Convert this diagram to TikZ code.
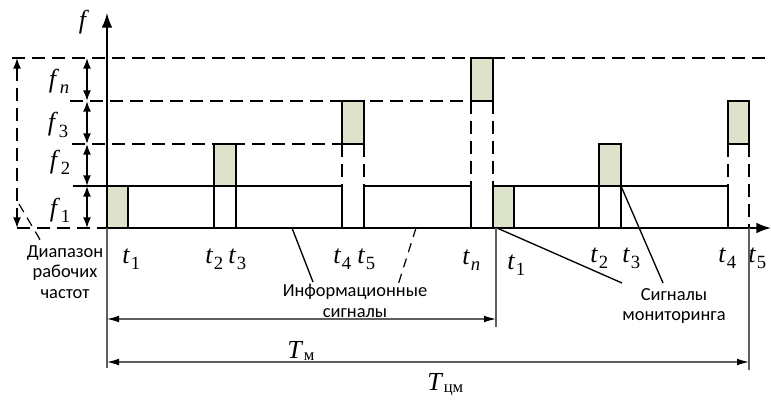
\documentclass[tikz,border=0pt]{standalone}
\usepackage{fontspec}
\setmainfont{Liberation Serif}
\newfontfamily\sansf{Carlito}
\usetikzlibrary{arrows.meta}
\definecolor{sig}{RGB}{221,226,203}
\definecolor{dimc}{RGB}{95,95,95}
\newcommand\lab[2]{\textit{#1}\kern0.03em\raisebox{-0.24em}{\fontsize{14}{14}\selectfont #2}}
\newcommand\labT[2]{\textit{#1}\kern0.02em\raisebox{-0.1em}{\fontsize{12.5}{12.5}\selectfont #2}}
\begin{document}
\begin{tikzpicture}[x=0.75pt,y=-0.75pt,
  ln/.style={line width=1.2pt},
  dsh/.style={line width=1.2pt, dash pattern=on 10pt off 5pt},
  dshthin/.style={line width=0.9pt, dash pattern=on 7pt off 5pt},
  sigbox/.style={draw, line width=1.2pt, fill=sig},
  infobox/.style={draw, line width=1.2pt, fill=white},
  axtip/.style={-{Latex[length=11pt,width=8pt]}},
  dbl/.style={{Latex[length=8pt,width=6pt]}-{Latex[length=8pt,width=6pt]}, line width=1.2pt},
  dimarr/.style={draw=dimc, line width=0.8pt, {Latex[length=9pt,width=5pt,color=black]}-{Latex[length=9pt,width=5pt,color=black]}},
  ext/.style={draw=dimc, line width=0.8pt},
  lead/.style={line width=1pt},
  lbl/.style={font=\fontsize{19.5}{19.5}\selectfont, inner sep=0pt},
  txt/.style={font=\sansf\fontsize{13.8}{15.4}\selectfont, align=center, inner sep=0pt},
]
\useasboundingbox (0,0) rectangle (771,401);
% dashed level lines
\draw[dsh] (12,58) -- (771,58);
\draw[dsh] (70,101) -- (471,101);
\draw[dsh] (72,144) -- (342,144);
\draw[ln] (73,186) -- (107,186);
\draw[dsh] (17,228) -- (107,228);
% dashed verticals
\draw[dsh] (342,144) -- (342,186);
\draw[dsh] (364,144) -- (364,186);
\draw[dsh] (471,101) -- (471,186);
\draw[dsh] (493,101) -- (493,186);
\draw[dsh] (728,144) -- (728,186);
\draw[dsh] (749,144) -- (749,228);
% information boxes
\draw[infobox] (107,186) rectangle (214,228);
\draw[infobox] (214,186) rectangle (236,228);
\draw[infobox] (236,186) rectangle (342,228);
\draw[infobox] (364,186) rectangle (471,228);
\draw[infobox] (493,186) rectangle (599,228);
\draw[infobox] (599,186) rectangle (621,228);
\draw[infobox] (621,186) rectangle (728,228);
% monitoring signals
\draw[sigbox] (107,186) rectangle (128,228);
\draw[sigbox] (214,144) rectangle (236,186);
\draw[sigbox] (342,101) rectangle (364,144);
\draw[sigbox] (471,58) rectangle (493,101);
\draw[sigbox] (493,186) rectangle (514,228);
\draw[sigbox] (599,144) rectangle (621,186);
\draw[sigbox] (728,101) rectangle (749,144);
% axes
\coordinate (O) at (107,228);
\coordinate (ytop) at (107,13);
\coordinate (xend) at (771,228);
\draw[ln, axtip] (O) -- (ytop);
\draw[ln, axtip] (O) -- (xend);
\node[lbl] (flab) at (84,22) {\textit{f}};
% frequency brackets
\draw[dsh, dbl] (17,58) -- (17,228);
\draw[dbl] (87,58) -- (87,101);
\draw[dbl] (87,101) -- (87,144);
\draw[dbl] (87,144) -- (87,186);
\draw[dbl] (87,186) -- (87,228);
\node[lbl] (fn) at (59,81) {\lab{f}{\textit{n}}};
\node[lbl] (f3) at (58,125) {\lab{f}{3}};
\node[lbl] (f2) at (60,162) {\lab{f}{2}};
\node[lbl] (f1) at (60,210) {\lab{f}{1}};
% range label
\node[txt] (range) at (65,272) {Диапазон\\рабочих\\частот};
\coordinate (rl1) at (19,204);
\coordinate (rl2) at (42,243);
\draw[dshthin] (rl1) -- (rl2);
% time labels
\node[lbl, anchor=base west] (t1) at (122,263) {\lab{t}{1}};
\node[lbl, anchor=base west] (t2) at (205,263) {\lab{t}{2}};
\node[lbl, anchor=base west] (t3) at (228,263) {\lab{t}{3}};
\node[lbl, anchor=base west] (t4) at (333,263) {\lab{t}{4}};
\node[lbl, anchor=base west] (t5) at (357,263) {\lab{t}{5}};
\node[lbl, anchor=base west] (tn) at (462,264) {\lab{t}{\textit{n}}};
\node[lbl, anchor=base west] (t1b) at (507,269) {\lab{t}{1}};
\node[lbl, anchor=base west] (t2b) at (590,262) {\lab{t}{2}};
\node[lbl, anchor=base west] (t3b) at (622,262) {\lab{t}{3}};
\node[lbl, anchor=base west] (t4b) at (718,262) {\lab{t}{4}};
\node[lbl, anchor=base west] (t5b) at (748,262) {\lab{t}{5}};
% info leaders
\node[txt] (info) at (355,301) {Информационные\\сигналы};
\coordinate (il1) at (292,228);
\coordinate (il1e) at (313,282);
\coordinate (il2) at (416,228);
\coordinate (il2e) at (398,285);
\draw[lead] (il1) -- (il1e);
\draw[dshthin] (il2) -- (il2e);
% monitoring leaders
\node[txt] (mon) at (674,306) {Сигналы\\мониторинга};
\coordinate (ml1) at (497,228);
\coordinate (ml1e) at (622,283);
\coordinate (ml2) at (621,186);
\coordinate (ml2e) at (663,283);
\draw[lead] (ml1) -- (ml1e);
\draw[lead] (ml2) -- (ml2e);
% periods
\coordinate (Tm0) at (107,319);
\coordinate (Tm1) at (496,319);
\coordinate (Tc0) at (107,362);
\coordinate (Tc1) at (749,362);
\draw[ext] (O) -- (107,368);
\draw[ext] (496,228) -- (496,327);
\draw[ext] (749,228) -- (749,370);
\draw[dimarr] (Tm0) -- (Tm1);
\draw[dimarr] (Tc0) -- (Tc1);
\node[lbl, anchor=base west] (Tm) at (287,358) {\labT{T}{м}};
\node[lbl, anchor=base west] (Tcm) at (427,390) {\labT{T}{цм}};
\end{tikzpicture}
\end{document}
